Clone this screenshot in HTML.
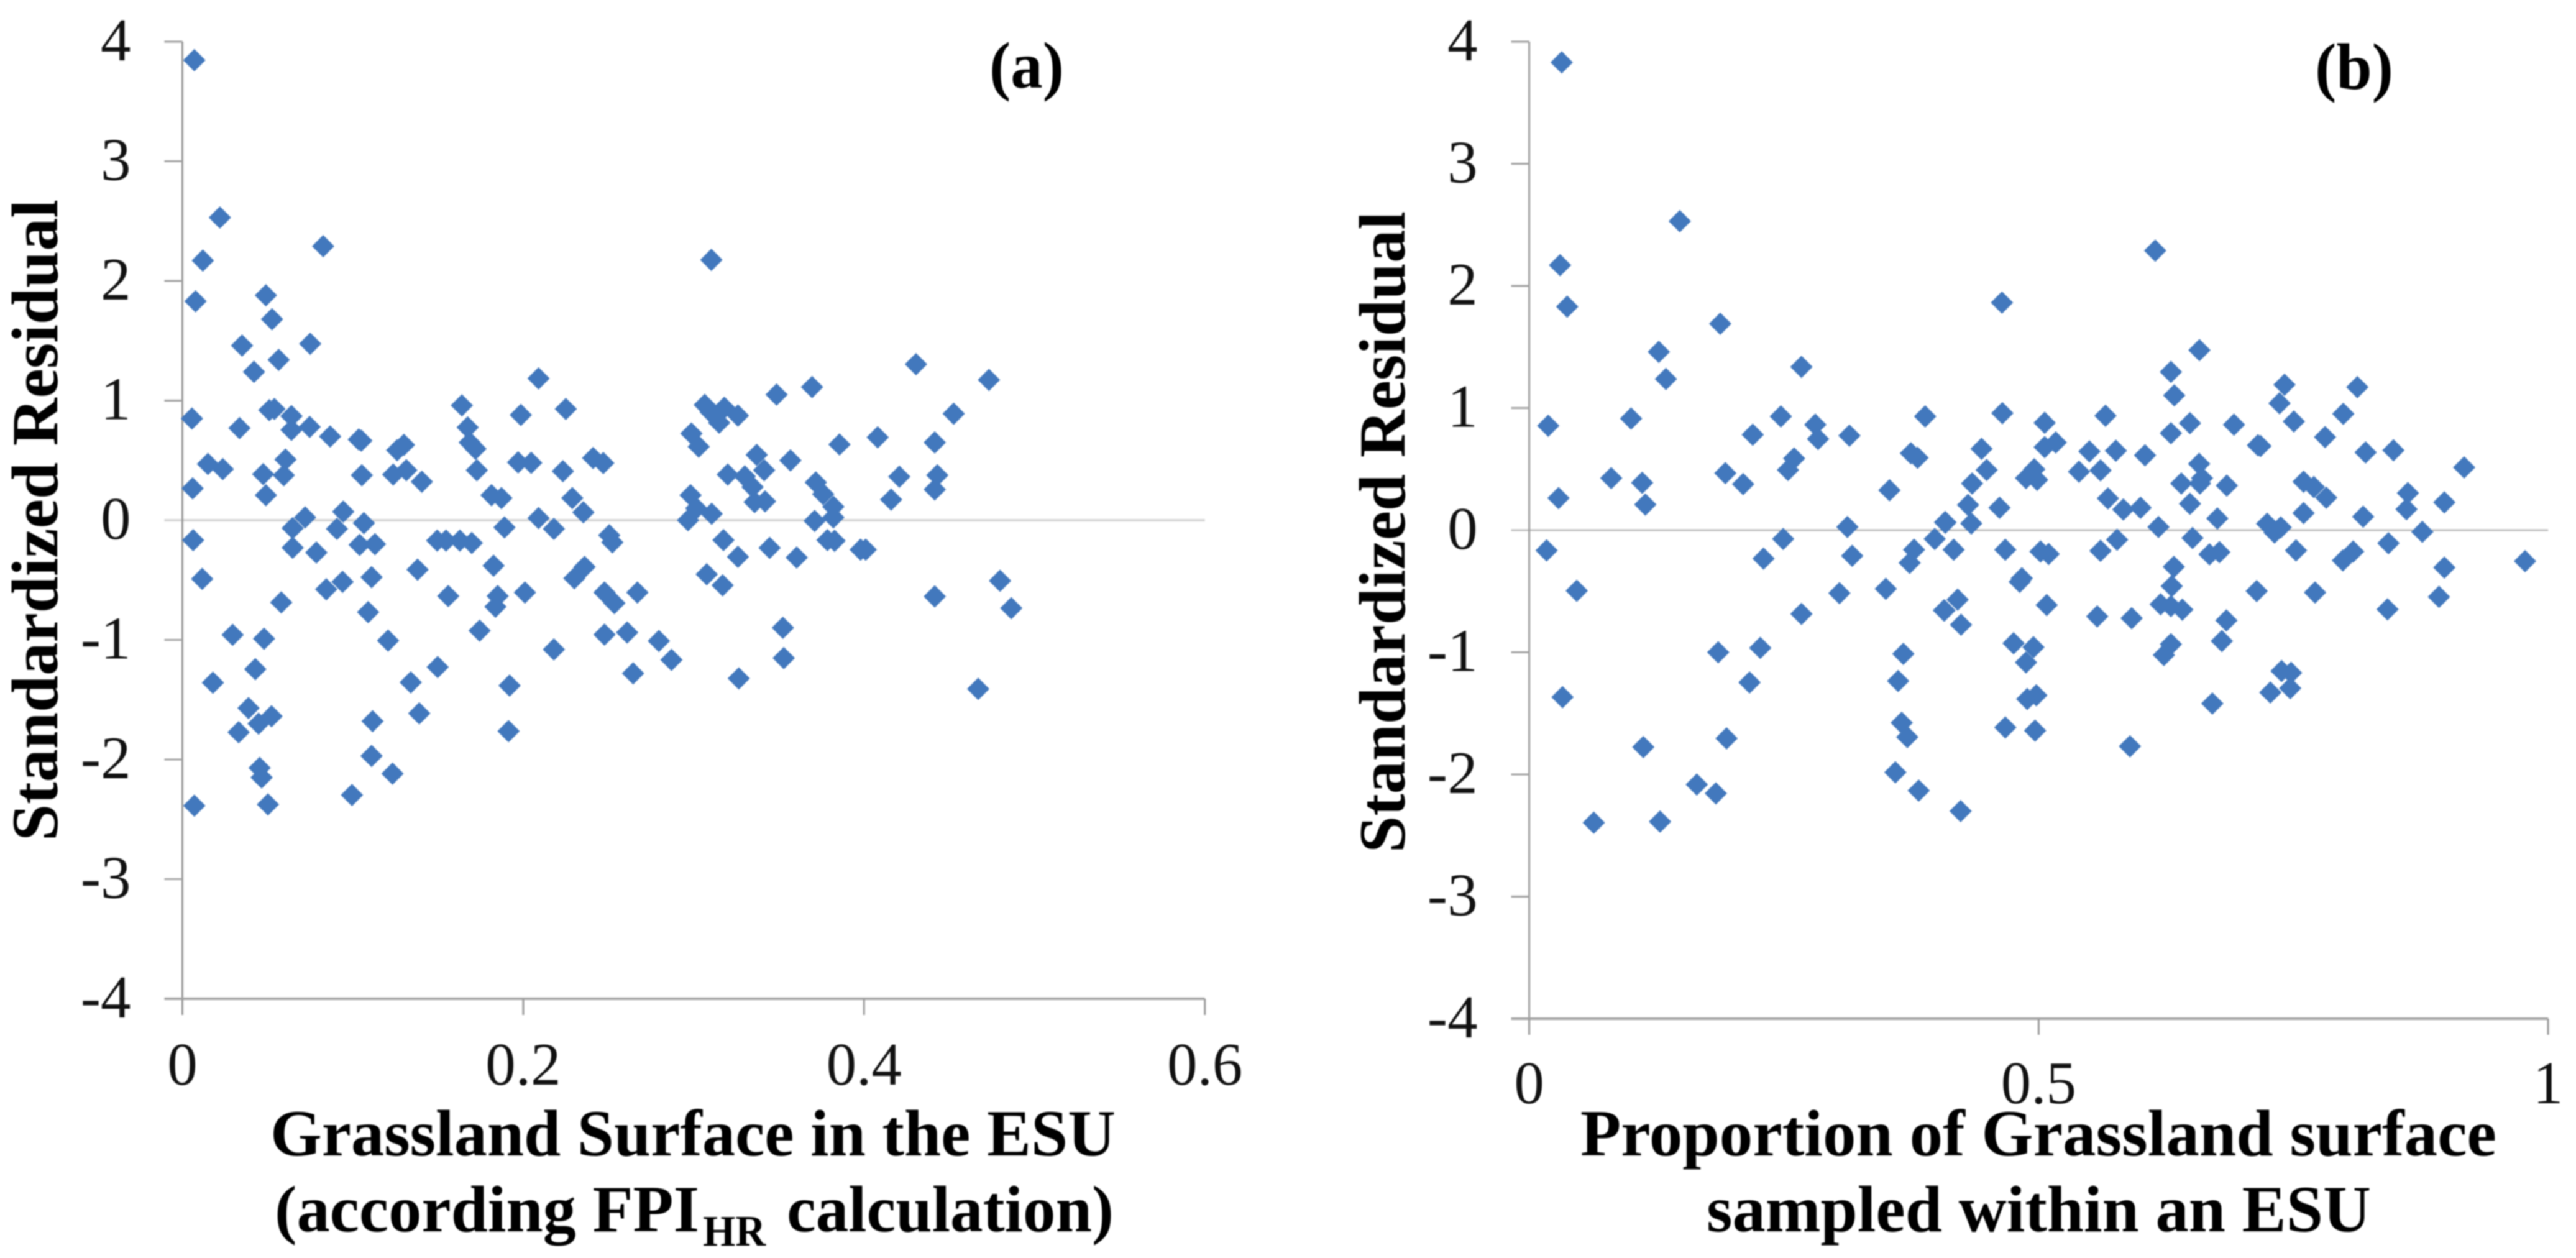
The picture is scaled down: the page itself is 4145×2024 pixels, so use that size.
<!DOCTYPE html>
<html lang="en">
<head>
<meta charset="utf-8">
<title>Standardized residual scatter plots</title>
<style>
html,body{margin:0;padding:0;background:#fff;}
svg{display:block;filter:blur(1px);}
text{font-family:"Liberation Serif",serif;fill:#000;}
.tick{font-size:97px;fill:#111;}
.ttl{font-size:106px;font-weight:bold;}
</style>
</head>
<body>
<svg id="fig" xmlns="http://www.w3.org/2000/svg" width="4145" height="2024" viewBox="0 0 4145 2024">
  <rect width="4145" height="2024" fill="#fff"/>
  <g id="panel-a"></g>
  <g id="panel-b"></g>

  <text class="ttl" x="1592" y="141" textLength="120" lengthAdjust="spacingAndGlyphs">(a)</text>
  <text class="ttl" x="3725" y="143" textLength="126" lengthAdjust="spacingAndGlyphs">(b)</text>

  <text class="ttl" transform="translate(92,1353) rotate(-90)" textLength="1032" lengthAdjust="spacingAndGlyphs">Standardized  Residual</text>
  <text class="ttl" transform="translate(2260,1372) rotate(-90)" textLength="1032" lengthAdjust="spacingAndGlyphs">Standardized  Residual</text>

  <text class="ttl" x="435" y="1859" textLength="1360" lengthAdjust="spacingAndGlyphs">Grassland Surface in the ESU</text>
  <text class="ttl" x="442" y="1981" textLength="683" lengthAdjust="spacingAndGlyphs">(according FPI</text>
  <text class="ttl" x="1131" y="2004" textLength="101" lengthAdjust="spacingAndGlyphs" style="font-size:70px">HR</text>
  <text class="ttl" x="1266" y="1981" textLength="526" lengthAdjust="spacingAndGlyphs">calculation)</text>

  <text class="ttl" x="2543" y="1859" textLength="1474" lengthAdjust="spacingAndGlyphs">Proportion of Grassland surface</text>
  <text class="ttl" x="2746" y="1981" textLength="1069" lengthAdjust="spacingAndGlyphs">sampled within an ESU</text>
</svg>
<script>
// Shared y axis ticks
const yTicks = [4, 3, 2, 1, 0, -1, -2, -3, -4];

// Panel (a): grassland surface vs standardized residual
const xTicksA = [0, 0.2, 0.4, 0.6];
const xTickLabelsA = ["0", "0.2", "0.4", "0.6"];
const seriesAx = [
.007,.022,.012,.0826,.0077,.049,.0526,.035,.075,.0565,.042,.209,.164,.225,.051,.054,.1986,.0056,.064,.064,
.0335,.0747,.0867,.1035,.105,.1674,.1686,.172,.130,.126,.0605,.015,.0237,.197,.2047,.241,.247,.1728,.2233,.1314,
.1237,.0474,.0595,.1053,.1405,.006,.049,.1814,.1872,.2288,.2353,.0944,.072,.0647,.209,.0907,.218,.1065,.189,.0063,
.2505,.2523,.0647,.0786,.104,.113,.1495,.1547,.1628,.1698,.0116,.138,.1826,.111,.094,.0844,.156,.185,.1837,.201,
.236,.230,.2477,.2535,.058,.109,.1744,.0295,.0479,.1207,.2477,.218,.0428,.1498,.134,.0179,.192,.0388,.139,.1116,
.0523,.0447,.033,.1914,.111,.0453,.0465,.1233,.0995,.007,.0502,.3175,.326,.3446,.3605,.3785,.3827,.398,.401,.3077,
.317,.267,.4415,.4798,.4864,.261,.2796,.287,.2645,.3524,.3529,.3265,.467,.3104,.4305,.4733,.3695,.3487,.3065,.318,
.326,.310,.315,.4526,.2987,.303,.408,.3856,.4415,.337,.3414,.3568,.32,.330,.3346,.4207,.4430,.4415,.3717,.376,
.2982,.3016,.2967,.3106,.3358,.3419,.4159,.382,.382,.371
];
const seriesAy = [
3.845,2.53,2.17,2.29,1.83,1.88,1.68,1.46,1.475,1.34,1.24,1.185,.96,.93,.92,.93,.88,.85,.87,.755,
.77,.78,.70,.675,.665,.776,.65,.597,.63,.585,.507,.47,.427,.484,.48,.52,.478,.418,.41,.418,
.382,.385,.376,.376,.322,.266,.209,.209,.185,.185,.066,.072,.024,-.066,.018,-.072,-.072,-.024,-.06,-.167,
-.125,-.185,-.23,-.27,-.206,-.2,-.17,-.17,-.17,-.19,-.49,-.413,-.38,-.476,-.515,-.577,-.634,-.634,-.723,-.604,
-.39,-.485,-.604,-.693,-.687,-.768,-.923,-.958,-.99,-1.006,-.956,-1.08,-1.245,-1.227,-1.355,-1.358,-1.382,-1.57,-1.614,-1.68,
-1.638,-1.70,-1.772,-1.763,-1.97,-2.07,-2.15,-2.118,-2.297,-2.386,-2.375,-.166,-.306,-.231,-.312,-.166,-.172,-.246,-.246,-.452,
-.544,-.604,-.637,-.506,-.735,-.938,-1.009,-1.167,-1.28,-.899,-1.152,-1.322,-1.41,2.176,1.304,1.173,1.113,1.05,.964,.94,
.875,.904,.815,.89,.725,.615,.693,.633,.65,.546,.418,.50,.382,.367,.278,.364,.376,.257,.316,.218,
.209,.10,.0,.054,.152,.158,.173,.113,.024,-.006
];

// Panel (b): proportion of grassland sampled vs standardized residual
const xTicksB = [0, 0.5, 1];
const xTickLabelsB = ["0", "0.5", "1"];
const seriesBx = [
.0319,.1478,.0303,.0373,.1875,.1272,.2672,.1342,.3886,.1,.247,.0187,.2808,.2835,.2194,.3143,.3746,.3812,.26,.254,
.0805,.1925,.1109,.21,.3536,.0288,.114,.4084,.3123,.2493,.398,.0171,.23,.317,.3777,.3734,.4166,.0467,.3045,.35,
.2672,.4076,.1855,.2268,.3672,.2163,.3621,.0327,.3656,.3711,.1937,.112,.3594,.1645,.1832,.3823,.0634,.1284,.4673,.5018,
.5098,.5607,.5770,.651,.7526,.6677,.6774,.7986,.8087,.8433,.8766,.9774,.8982,.6327,.6306,.4835,.4814,.4205,.407,.4238,
.5079,.5575,.5913,.6197,.6298,.641,.7140,.7713,.8929,.8424,.6843,.6798,.6298,.6229,.4754,.4949,.4876,.7384,.7477,.7274,
.7469,.4888,.4977,.6705,.4673,.4965,.5896,.4234,.6144,.4640,.6578,.6298,.6331,.7413,.8128,.7364,.4644,.5656,.7990,.5059,
.6485,.6917,.7505,.6298,.7811,.5168,.5059,.7152,.7177,.444,.5498,.5758,.6044,.8209,.8482,.6575,.9176,.4490,.4957,.4876,
.4985,.5396,.5607,.6604,.64,.6583,.4347,.6847,.7600,.7701,.8624,.7823,.4307,.5680,.6485,.8982,.5831,.6,.861,.4616,
.7600,.6754,.8185,.4083,.4339,.7242,.7376,.7315,.6176
];
const seriesBy = [
3.83,2.53,2.17,1.83,1.69,1.46,1.337,1.238,.931,.914,.931,.855,.864,.747,.782,.774,.63,.593,.587,.493,
.426,.467,.388,.377,.327,.263,.21,.061,.026,-.072,-.072,-.166,-.233,-.21,-.16,-.268,-.16,-.496,-.516,-.48,
-.686,-.657,-1.0,-.964,-1.013,-1.247,-1.235,-1.367,-1.577,-1.694,-1.705,-1.776,-1.983,-2.083,-2.155,-2.132,-2.395,-2.386,-.16,-.175,
-.195,-.169,-.078,-.064,-.166,-.198,-.18,-.248,-.175,-.107,-.014,-.254,-.306,-.30,-.458,-.394,-.423,-.569,-.657,-.774,
-.613,-.706,-.721,-.607,-.622,-.651,-.499,-.51,-.546,-.648,-.739,-.908,-.934,-1.022,-.926,-.958,-1.083,-1.153,-1.168,-1.329,
-1.294,-1.382,-1.352,-1.419,-1.615,-1.641,-1.77,-2.3,2.289,1.863,1.474,1.296,1.104,1.191,1.171,1.039,.958,.937,.952,.879,
.876,.864,.89,.794,.762,.718,.68,.695,.689,.666,.645,.651,.613,.637,.654,.543,.514,.493,.499,.426,
.412,.479,.49,.426,.382,.382,.382,.365,.397,.353,.304,.266,.207,.26,.216,.228,.169,.184,.172,.184,
.14,.096,.111,.067,.055,.053,.023,-.02,.026
];

const SVGNS = "http://www.w3.org/2000/svg";
const MARK = "#4278bd";

function makeAxis(x0, pxPerX, y0, pxPerY) {
  return { x: v => x0 + v * pxPerX, y: v => y0 - v * pxPerY };
}

function drawPanel(opts) {
  const g = document.getElementById(opts.id);
  const sx = opts.scale.x, sy = opts.scale.y;
  const left = sx(0), bottom = sy(-4), top = sy(4);
  const right = sx(opts.xTicks[opts.xTicks.length - 1]);

  // zero reference line
  const zero = document.createElementNS(SVGNS, "line");
  
  
  zero.setAttribute("x1", left - 29); zero.setAttribute("x2", right);
  zero.setAttribute("y1", sy(0)); zero.setAttribute("y2", sy(0));
  zero.setAttribute("stroke", opts.zeroColor); zero.setAttribute("stroke-width", opts.zeroWidth);
  g.appendChild(zero);

  // y axis line
  const yAxis = document.createElementNS(SVGNS, "line");
  
  
  yAxis.setAttribute("x1", left); yAxis.setAttribute("x2", left);
  yAxis.setAttribute("y1", top); yAxis.setAttribute("y2", bottom + 26);
  yAxis.setAttribute("stroke", "#9a9a9a"); yAxis.setAttribute("stroke-width", 3);
  g.appendChild(yAxis);

  // x axis line
  const xAxis = document.createElementNS(SVGNS, "line");
  
  
  xAxis.setAttribute("x1", left - 29); xAxis.setAttribute("x2", right);
  xAxis.setAttribute("y1", bottom); xAxis.setAttribute("y2", bottom);
  xAxis.setAttribute("stroke", "#a3a3a3"); xAxis.setAttribute("stroke-width", 4);
  g.appendChild(xAxis);

  // y ticks
  yTicks.forEach(function (t) {
    if (t !== 0 && t !== -4) {
      const tk = document.createElementNS(SVGNS, "line");
      
      
      tk.setAttribute("x1", left - 29); tk.setAttribute("x2", left);
      tk.setAttribute("y1", sy(t)); tk.setAttribute("y2", sy(t));
      tk.setAttribute("stroke", "#a0a0a0"); tk.setAttribute("stroke-width", 3);
      g.appendChild(tk);
    }
    const lb = document.createElementNS(SVGNS, "text");
    
    
    lb.setAttribute("class", "tick");
    lb.setAttribute("text-anchor", "end");
    lb.setAttribute("x", left - 83);
    lb.setAttribute("y", sy(t) + 30);
    lb.textContent = String(t);
    g.appendChild(lb);
  });

  // x ticks
  opts.xTicks.forEach(function (t, i) {
    const tk = document.createElementNS(SVGNS, "line");
    
    
    tk.setAttribute("x1", sx(t)); tk.setAttribute("x2", sx(t));
    tk.setAttribute("y1", bottom); tk.setAttribute("y2", bottom + 26);
    tk.setAttribute("stroke", "#9a9a9a"); tk.setAttribute("stroke-width", 3);
    g.appendChild(tk);
    const lb = document.createElementNS(SVGNS, "text");
    
    
    lb.setAttribute("class", "tick");
    lb.setAttribute("text-anchor", "middle");
    lb.setAttribute("x", sx(t));
    lb.setAttribute("y", opts.xLabelY);
    lb.textContent = opts.xLabels[i];
    g.appendChild(lb);
  });

  // points
  const h = 18;
  opts.xs.forEach(function (v, i) {
    const cx = sx(v), cy = sy(opts.ys[i]);
    const p = document.createElementNS(SVGNS, "polygon");
    
    
    p.setAttribute("points", cx + "," + (cy - h) + " " + (cx + h) + "," + cy + " " + cx + "," + (cy + h) + " " + (cx - h) + "," + cy);
    p.setAttribute("fill", MARK);
    g.appendChild(p);
  });
}

drawPanel({
  id: "panel-a",
  scale: makeAxis(293.5, 2742, 837, 192.5),
  xTicks: xTicksA, xLabels: xTickLabelsA, xLabelY: 1745,
  xs: seriesAx, ys: seriesAy,
  zeroColor: "#d6d6d6", zeroWidth: 4
});
drawPanel({
  id: "panel-b",
  scale: makeAxis(2460.6, 1639.5, 853, 196.5),
  xTicks: xTicksB, xLabels: xTickLabelsB, xLabelY: 1775,
  xs: seriesBx, ys: seriesBy,
  zeroColor: "#bdbdbd", zeroWidth: 3
});
</script>
</body>
</html>
